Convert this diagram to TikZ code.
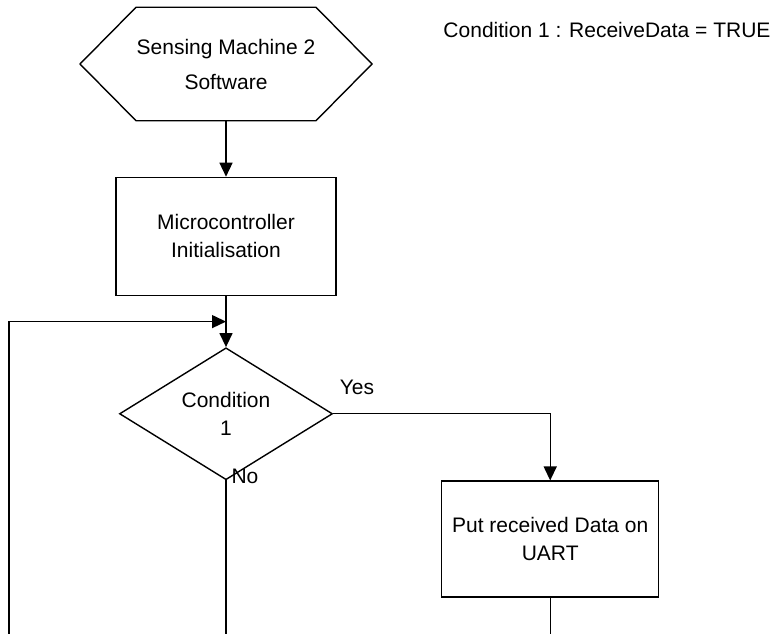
\documentclass[tikz,border=0pt]{standalone}
\usepackage{fontspec}
\setmainfont{Liberation Sans}
\usepackage{tikz}
\usetikzlibrary{positioning}
\usetikzlibrary{shapes.geometric}
\usetikzlibrary{arrows.meta}
\usetikzlibrary{calc}

\begin{document}
\begin{tikzpicture}[x=1pt, y=-1pt,
        line width=1.4pt, >={Triangle[width=13pt,length=14pt]},
        every node/.style = {font=\fontsize{21}{28}\selectfont, align=center, inner sep=0pt},
        startnode/.style = {minimum width=164pt, minimum height=112pt, font=\fontsize{21}{35}\selectfont},
        process/.style = {draw, rectangle, minimum width=220pt, minimum height=118pt},
        decision/.style = {draw, diamond, minimum width=213pt, minimum height=117pt}
        ]
        \useasboundingbox (0,0) rectangle (776,634);
        \node (start) [startnode] at (226,64) {Sensing Machine 2\\Software};
        \node (init) [process, below=56pt of start] {Microcontroller\\Initialisation};
        \node (cond) [decision, below=51pt of init] {Condition\\1};
        \node (put) [process, minimum width=217pt, minimum height=116pt, below right=0pt and 215pt of cond.south] {Put received Data on\\UART};
        \node (yes) at (357,387) {Yes};
        \node (no) at (245,476) {No};
        \node (note) at (607,30) {Condition 1 : ReceiveData = TRUE};
        % hexagon round the start text
        \draw (start.north west) -- (start.north east) -- ([xshift=56pt]start.east)
              -- (start.south east) -- (start.south west) -- ([xshift=-56pt]start.west) -- cycle;
        \coordinate (merge) at ($(init.south)!0.5!(cond.north)$);
        \coordinate (loopbot) at (9,634);
        \coordinate (nobot) at (cond.south |- loopbot);
        \coordinate (putbot) at (put.south |- loopbot);
        \draw[->] (start) -- (init);
        \draw[->] (init) -- (cond);
        \draw[->] (cond.east) -| (put.north);
        \draw[->] (loopbot) |- (merge);
        \draw (cond.south) -- (nobot);
        \draw (put.south) -- (putbot);
\end{tikzpicture}
\end{document}
